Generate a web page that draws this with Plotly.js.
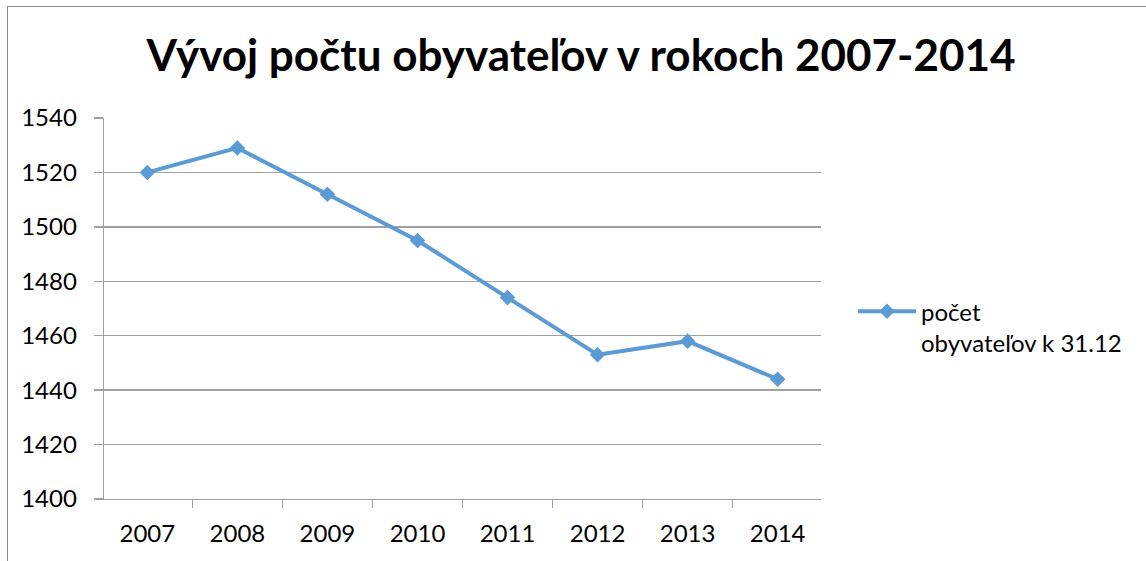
<!DOCTYPE html>
<html>
<head>
<meta charset="utf-8">
<script src="https://cdn.plot.ly/plotly-3.0.1.min.js"></script>
<style>
html,body{margin:0;padding:0;background:#fff;}
#wrap{position:relative;width:1146px;height:561px;overflow:hidden;}
#chart{position:absolute;left:0;top:0;width:1146px;height:561px;}
#frame{position:absolute;left:7px;top:6px;width:1200px;height:600px;border-left:1px solid #8a8a8a;border-top:1px solid #8a8a8a;pointer-events:none;}
</style>
</head>
<body>
<div id="wrap"><div id="chart"></div><div id="frame"></div></div>
<script>
var years = ['2007','2008','2009','2010','2011','2012','2013','2014'];
var population = [1520, 1529, 1512, 1495, 1474, 1453, 1458, 1444];
var seriesName = 'počet<br>obyvateľov k 31.12';
var chartTitle = 'Vývoj počtu obyvateľov v rokoch 2007-2014';
var yTicks = [1400, 1420, 1440, 1460, 1480, 1500, 1520, 1540];

var FONT = 'Lato, "Open Sans", sans-serif';
var trace = {
  type: 'scatter', mode: 'lines+markers',
  x: years, y: population, name: seriesName,
  line: {color: '#5B9BD5', width: 4},
  marker: {symbol: 'diamond', size: 12, color: '#5B9BD5'}
};
var layout = {
  width: 1146, height: 561,
  margin: {l: 104, r: 325, t: 118, b: 62, pad: 0},
  paper_bgcolor: '#ffffff', plot_bgcolor: '#ffffff',
  font: {family: FONT, color: '#000000', size: 24},
  title: {text: '<b>' + chartTitle + '</b>', font: {family: FONT, size: 44, color: '#000'},
          xref: 'container', x: 0.507, xanchor: 'center', yref: 'container', y: 1 - 56/561, yanchor: 'middle'},
  xaxis: {type: 'category', tickson: 'boundaries', ticks: 'outside', ticklen: 8, tickcolor: '#a0a0a0', tickwidth: 1.3,
          showline: true, linecolor: '#a0a0a0', linewidth: 1.3, showgrid: false, zeroline: false,
          ticklabelstandoff: 13, tickfont: {family: FONT, size: 24}},
  yaxis: {range: [1400, 1540], tickvals: yTicks, ticktext: yTicks.map(String), ticks: 'outside', ticklen: 9,
          tickcolor: '#a0a0a0', tickwidth: 1.3, showline: true, linecolor: '#a0a0a0', linewidth: 1.3,
          showgrid: true, gridcolor: '#a0a0a0', gridwidth: 1.3, zeroline: false,
          ticklabelstandoff: 12, tickfont: {family: FONT, size: 24}},
  showlegend: true,
  legend: {x: (853-104)/717, xanchor: 'left', y: (498.7-289)/380.7, yanchor: 'top', valign: 'top',
           font: {family: FONT, size: 24}, bgcolor: 'rgba(0,0,0,0)', itemwidth: 58, tracegroupgap: 0}
};
Plotly.newPlot('chart', [trace], layout, {displayModeBar: false, staticPlot: true});
</script>
</body>
</html>
